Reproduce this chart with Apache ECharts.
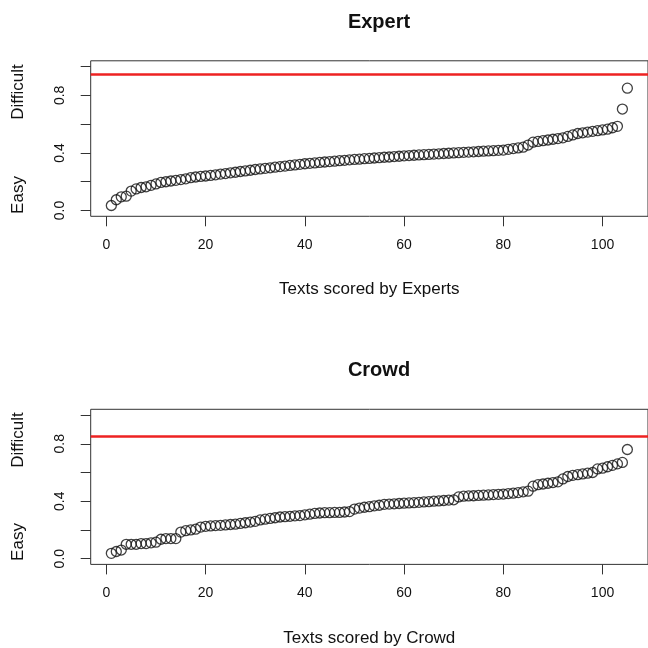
<!DOCTYPE html>
<html>
<head>
<meta charset="utf-8">
<script src="https://cdn.jsdelivr.net/npm/echarts@6/dist/echarts.min.js"></script>
<style>html,body{margin:0;padding:0;background:#fff}#c{width:648px;height:648px}</style>
</head>
<body>
<div id="c"></div>
<script>
// Sorted difficulty scores per text
const expertScores = [
  0.035,0.075,0.095,0.10,0.135,0.15,0.16,0.165,0.175,0.185,
  0.195,0.20,0.205,0.21,0.215,0.22,0.228,0.233,0.237,0.24,
  0.244,0.248,0.253,0.257,0.262,0.266,0.271,0.275,0.280,0.285,
  0.289,0.293,0.297,0.301,0.305,0.309,0.313,0.317,0.321,0.325,
  0.328,0.331,0.334,0.337,0.340,0.343,0.346,0.349,0.352,0.355,
  0.357,0.360,0.362,0.365,0.367,0.370,0.372,0.375,0.377,0.380,
  0.382,0.384,0.386,0.388,0.390,0.392,0.394,0.396,0.398,0.400,
  0.402,0.404,0.406,0.408,0.410,0.412,0.414,0.416,0.418,0.420,
  0.425,0.430,0.435,0.440,0.455,0.475,0.480,0.485,0.490,0.495,
  0.500,0.505,0.515,0.525,0.535,0.540,0.545,0.550,0.555,0.560,
  0.565,0.575,0.585,0.705,0.850
];
const crowdScores = [
  0.037,0.05,0.06,0.10,0.10,0.10,0.105,0.105,0.11,0.115,
  0.135,0.14,0.14,0.14,0.185,0.195,0.20,0.205,0.22,0.225,
  0.228,0.23,0.232,0.235,0.238,0.24,0.245,0.25,0.255,0.26,
  0.27,0.275,0.28,0.285,0.29,0.292,0.295,0.298,0.30,0.305,
  0.31,0.315,0.318,0.32,0.32,0.322,0.322,0.325,0.328,0.345,
  0.352,0.358,0.362,0.368,0.372,0.378,0.38,0.382,0.384,0.386,
  0.388,0.39,0.392,0.395,0.397,0.40,0.402,0.405,0.408,0.41,
  0.43,0.435,0.437,0.438,0.44,0.442,0.444,0.446,0.448,0.45,
  0.453,0.456,0.46,0.465,0.47,0.505,0.515,0.52,0.525,0.53,
  0.535,0.555,0.572,0.58,0.585,0.59,0.595,0.60,0.625,0.63,
  0.64,0.65,0.66,0.67,0.76
];
const thresholds = [0.95, 0.85];
const titles = ['Expert', 'Crowd'];
const xTitles = ['Texts scored by Experts', 'Texts scored by Crowd'];
const xTicks = [0, 20, 40, 60, 80, 100];
const yTicks = [0, 0.2, 0.4, 0.6, 0.8, 1.0];
const yLabels = [0, 0.4, 0.8];
const yWords = ['Easy', 'Difficult'];

const FONT = 'Liberation Sans, Arial, Helvetica, sans-serif';
const chart = echarts.init(document.getElementById('c'), null, {renderer: 'canvas'});
const grids = [
  {left: 90.7, top: 60.8, width: 567.3, height: 155.5},
  {left: 90.7, top: 409.3, width: 567.3, height: 155.1}
];
const allScores = [expertScores, crowdScores];

const option = {
  backgroundColor: '#fff',
  animation: false,
  title: titles.map((t, k) => ({
    text: t, left: 374, top: k === 0 ? 7 : 355, textAlign: 'center',
    textStyle: {fontFamily: FONT, fontWeight: 'bold', fontSize: 20, color: '#111'}
  })),
  grid: grids.map(g => Object.assign({show: true, borderColor: '#333', borderWidth: 1, backgroundColor: 'transparent', containLabel: false}, g)),
  xAxis: grids.map((g, k) => ({
    type: 'value', gridIndex: k, min: -3.16, max: 109.16,
    name: xTitles[k], nameLocation: 'middle', nameGap: 65,
    nameTextStyle: {fontFamily: FONT, fontSize: 17, color: '#111'},
    axisLine: {show: false, onZero: false},
    axisTick: {show: true, length: 10, inside: false, customValues: xTicks, lineStyle: {color: '#333'}},
    axisLabel: {customValues: xTicks, margin: 22, fontFamily: FONT, fontSize: 14, color: '#111', formatter: v => String(v)},
    splitLine: {show: false}
  })),
  yAxis: grids.map((g, k) => ({
    type: 'value', gridIndex: k, min: -0.04, max: 1.04,
    axisLine: {show: false, onZero: false},
    axisTick: {show: true, length: 10, inside: false, customValues: yTicks, lineStyle: {color: '#333'}},
    axisLabel: {customValues: yLabels, rotate: 90, margin: 24, fontFamily: FONT, fontSize: 14, color: '#111', formatter: v => v.toFixed(1)},
    splitLine: {show: false}
  })),
  series: allScores.map((arr, k) => ({
    type: 'scatter', xAxisIndex: k, yAxisIndex: k,
    data: arr.map((v, i) => [i + 1, v]),
    symbol: 'circle', symbolSize: 10,
    itemStyle: {color: 'rgba(255,255,255,0)', borderColor: '#111', borderWidth: 1.3},
    markLine: {
      silent: true, symbol: 'none', label: {show: false},
      lineStyle: {color: '#ee2222', width: 2.5, type: 'solid'},
      data: [{yAxis: thresholds[k]}]
    }
  })),
  graphic: [
    {type: 'text', x: 18, y: 195, rotation: Math.PI / 2, style: {text: yWords[0], font: '17px ' + FONT, fill: '#111', align: 'center', verticalAlign: 'middle'}},
    {type: 'text', x: 18, y: 92, rotation: Math.PI / 2, style: {text: yWords[1], font: '17px ' + FONT, fill: '#111', align: 'center', verticalAlign: 'middle'}},
    {type: 'text', x: 18, y: 542, rotation: Math.PI / 2, style: {text: yWords[0], font: '17px ' + FONT, fill: '#111', align: 'center', verticalAlign: 'middle'}},
    {type: 'text', x: 18, y: 440, rotation: Math.PI / 2, style: {text: yWords[1], font: '17px ' + FONT, fill: '#111', align: 'center', verticalAlign: 'middle'}}
  ]
};
chart.setOption(option);
</script>
</body>
</html>
